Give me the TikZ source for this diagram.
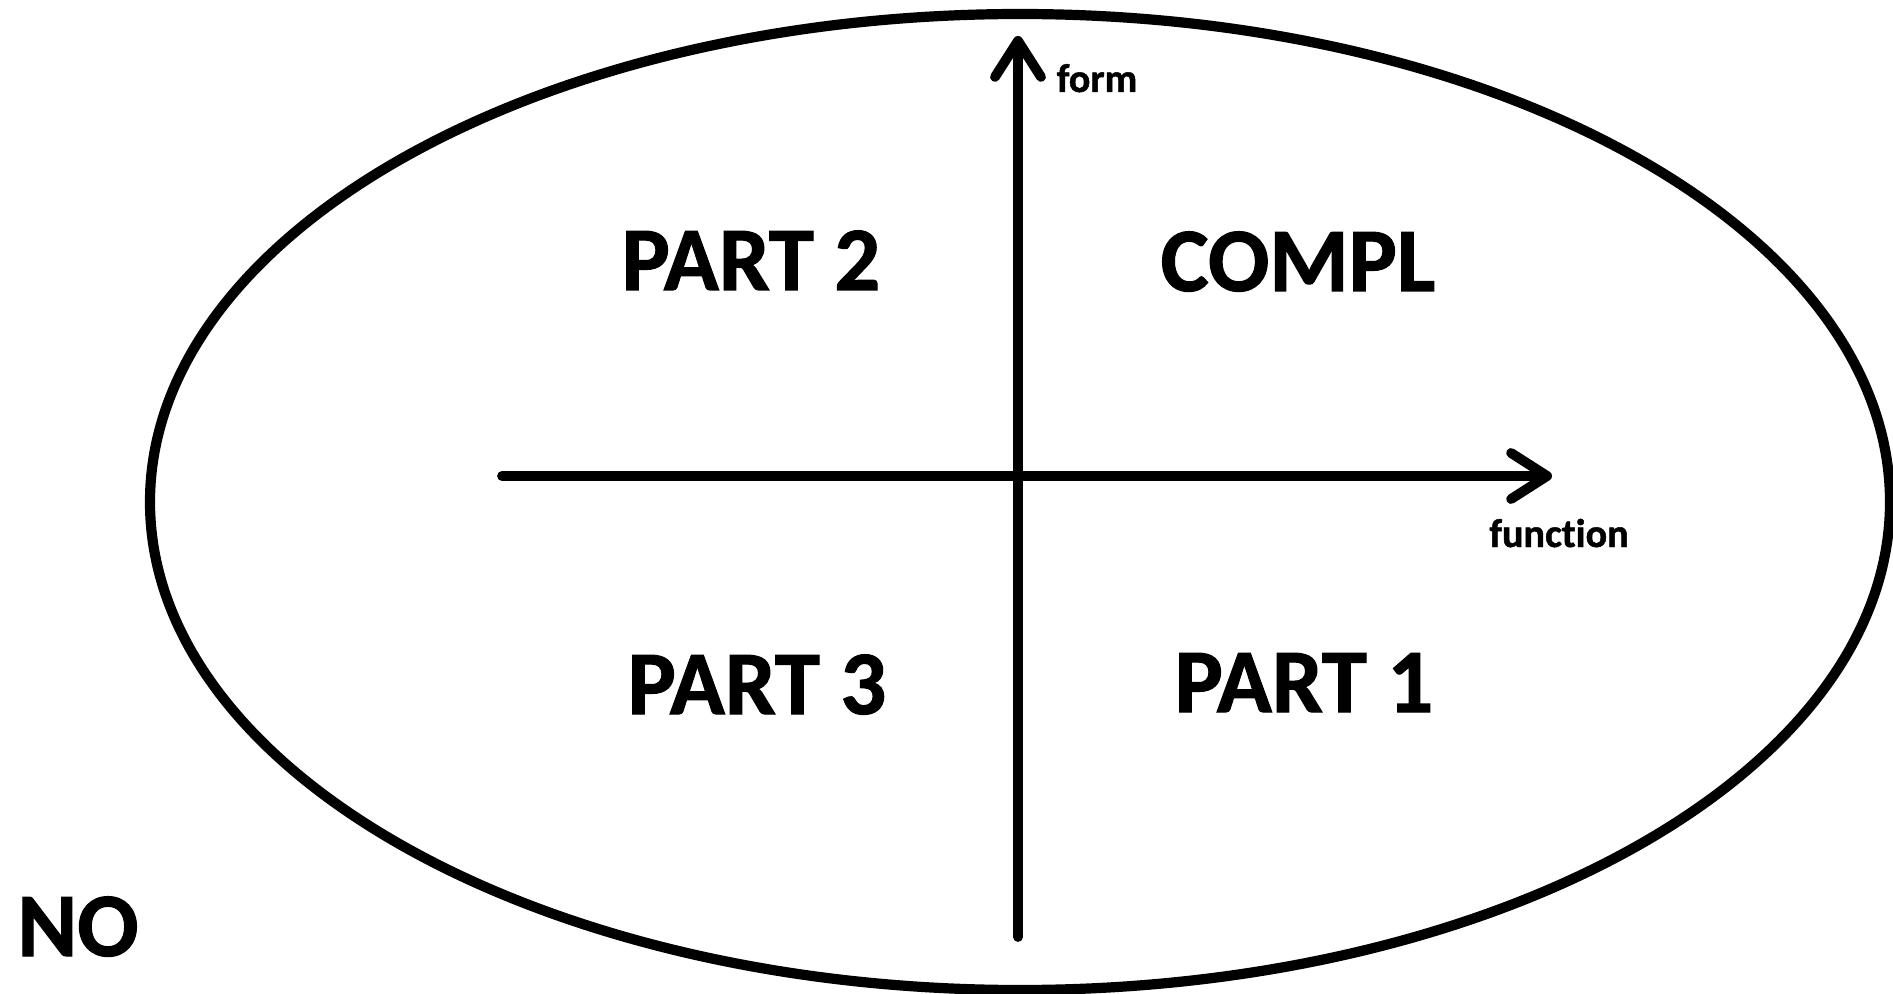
\documentclass[tikz,border=0pt]{standalone}
\usepackage{fontspec}
\setmainfont{Carlito}[Ligatures=NoCommon, BoldFeatures={FakeBold=1.2}]
\usetikzlibrary{arrows.meta}
\tikzset{
  big/.style={font=\bfseries\fontsize{25.8pt}{30pt}\selectfont, anchor=base, inner sep=0pt},
  small/.style={font=\bfseries\fontsize{11.4pt}{13pt}\selectfont, anchor=base, inner sep=0pt},
  axis/.style={line width=2.8pt, line cap=round, -{Straight Barb[length=3.6mm, width=4.6mm, line cap=round, line join=round]}},
  outline/.style={line width=2.9pt}
}
\begin{document}
\begin{tikzpicture}[x=0.01cm, y=-0.01cm]
\useasboundingbox[fill=white] (0,0) rectangle (1893,994);
\draw[outline] (1020,502) ellipse [x radius=870, y radius=488];
\coordinate (vbot) at (1018,937);
\coordinate (vtop) at (1018,36);
\coordinate (hleft) at (502,476);
\coordinate (hright) at (1552,476);
\draw[axis] (vbot) -- (vtop);
\draw[axis] (hleft) -- (hright);
\node[small] (form) at (1097,92) {form};
\node[small] (function) at (1559,547) {function};
\node[big] (part2) at (751,290) {PART 2};
\node[big] (compl) at (1298,291) {COMPL};
\node[big] (part3) at (757,714) {PART 3};
\node[big] (part1) at (1304,712) {PART 1};
\node[big] (no) at (78,956) {NO};
\end{tikzpicture}
\end{document}
